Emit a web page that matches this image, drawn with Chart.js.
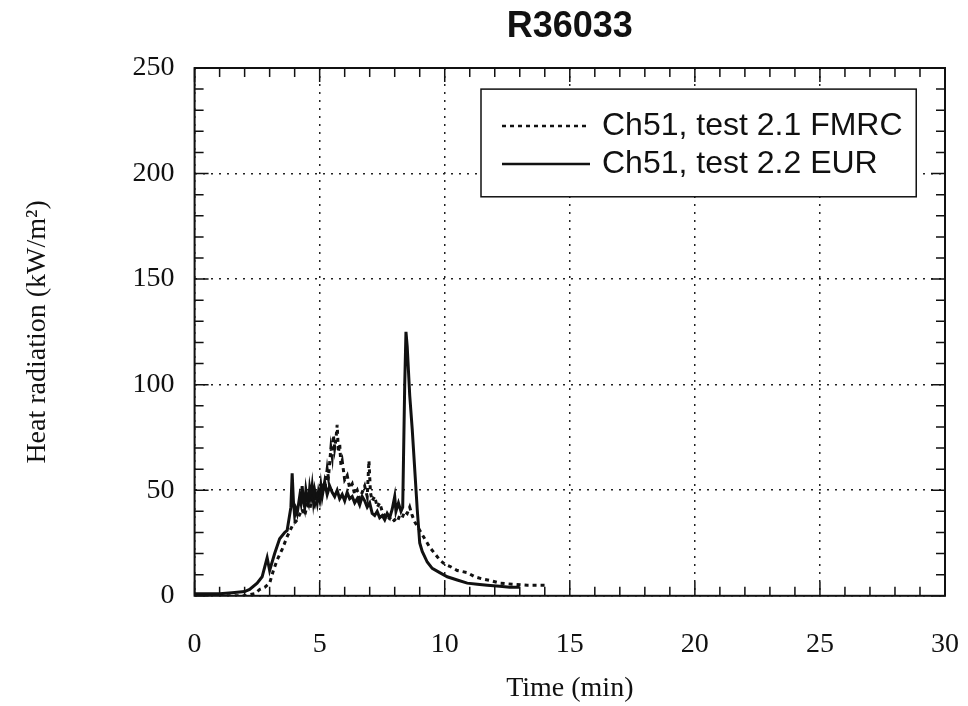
<!DOCTYPE html>
<html>
<head>
<meta charset="utf-8">
<script src="https://cdn.jsdelivr.net/npm/chart.js@4.4.1/dist/chart.umd.min.js"></script>
<style>
  body { margin: 0; background: #fff; }
  #wrap { width: 968px; height: 706px; position: relative; }
</style>
</head>
<body>
<div id="wrap"><canvas id="chart"></canvas></div>
<script>
// values (time in min, heat radiation in kW/m2)
const eurTime = [0, 0.5, 1, 1.5, 2, 2.2, 2.5, 2.7, 2.9, 3.0, 3.2, 3.4, 3.6, 3.7, 3.85, 3.9, 3.95, 4.0, 4.05, 4.1, 4.2, 4.25, 4.3, 4.35, 4.4, 4.45, 4.5, 4.55, 4.6, 4.65, 4.7, 4.75, 4.8, 4.85, 4.9, 4.95, 5.0, 5.05, 5.1, 5.2, 5.3, 5.4, 5.5, 5.6, 5.7, 5.8, 5.9, 6.0, 6.1, 6.2, 6.3, 6.4, 6.5, 6.6, 6.7, 6.8, 6.9, 7.0, 7.1, 7.2, 7.3, 7.4, 7.5, 7.6, 7.7, 7.8, 7.9, 8.0, 8.05, 8.15, 8.25, 8.32, 8.4, 8.45, 8.5, 8.6, 8.7, 8.8, 8.9, 9.0, 9.1, 9.3, 9.5, 9.8, 10.1, 10.5, 10.9, 11.3, 11.7, 12.2, 12.6, 13.0];
const eurHeat = [1, 1, 1, 1.5, 2, 3, 6, 9, 18, 12, 20, 27, 30, 31, 42, 58, 45, 38, 41, 39, 47, 44, 52, 45, 42, 50, 46, 44, 51, 47, 52, 45, 50, 47, 44, 49, 46, 52, 47, 54, 48, 52, 49, 47, 50, 46, 48, 45, 49, 46, 47, 44, 46, 43, 47, 45, 42, 44, 39, 38, 40, 37, 38, 36, 39, 37, 41, 47, 40, 44, 40, 42, 100, 125, 118, 95, 79, 60, 41, 25, 21, 16, 13, 11, 9, 7.5, 6, 5.5, 5, 4.5, 4, 4];

const fmrcTime = [0, 1, 2, 2.4, 2.6, 2.8, 3.0, 3.15, 3.3, 3.5, 3.7, 3.9, 4.1, 4.3, 4.4, 4.5, 4.6, 4.7, 4.8, 4.9, 5.0, 5.1, 5.2, 5.3, 5.35, 5.45, 5.5, 5.55, 5.6, 5.65, 5.7, 5.75, 5.8, 5.85, 5.9, 6.0, 6.1, 6.2, 6.3, 6.4, 6.5, 6.6, 6.7, 6.8, 6.9, 6.97, 7.03, 7.1, 7.2, 7.3, 7.4, 7.5, 7.6, 7.7, 7.8, 7.9, 8.0, 8.1, 8.2, 8.3, 8.4, 8.5, 8.6, 8.7, 8.8, 8.9, 9.0, 9.2, 9.4, 9.6, 9.8, 10.0, 10.2, 10.5, 10.9, 11.2, 11.5, 11.9, 12.2, 12.7, 13.3, 13.7, 14.0];
const fmrcHeat = [0, 0, 0, 1, 3, 4, 6, 12, 17, 22, 28, 33, 36, 41, 38, 43, 41, 46, 43, 48, 45, 52, 50, 60, 56, 70, 66, 76, 70, 74, 81, 68, 72, 62, 64, 55, 57, 51, 53, 48, 50, 46, 49, 52, 47, 64, 49, 45, 47, 42, 44, 40, 38, 36, 37, 35, 36, 35, 38, 37, 40, 39, 42, 38, 35, 33, 31, 27, 23, 20, 17, 15, 14, 12, 11, 9, 8, 7, 6, 5.5, 5, 5, 5];

const seriesLabels = ['Ch51, test 2.1 FMRC', 'Ch51, test 2.2 EUR'];
const chartTitle = 'R36033';
const xTicks = [0, 5, 10, 15, 20, 25, 30];
const yTicks = [0, 50, 100, 150, 200, 250];

function toPoints(xs, ys) {
  return xs.map((x, i) => ({ x: x, y: ys[i] }));
}

const serif = "'Liberation Serif', 'DejaVu Serif', serif";
const sans = "'Liberation Sans', Arial, sans-serif";

// frame + inward tick marks, plus the title centred over the plot box
const frameTicks = {
  id: 'frameTicks',
  afterDatasetsDraw(chart) {
    const ctx = chart.ctx;
    const a = chart.chartArea;
    const xs = chart.scales.x, ys = chart.scales.y;
    ctx.save();
    ctx.strokeStyle = '#111';
    ctx.lineWidth = 2;
    ctx.setLineDash([]);
    ctx.strokeRect(a.left, a.top, a.right - a.left, a.bottom - a.top);
    ctx.lineWidth = 1.5;
    for (let t = 0; t <= 30; t += 1) {
      const px = xs.getPixelForValue(t);
      const len = t % 5 === 0 ? 14 : 9;
      ctx.beginPath();
      ctx.moveTo(px, a.bottom); ctx.lineTo(px, a.bottom - len);
      ctx.moveTo(px, a.top); ctx.lineTo(px, a.top + len);
      ctx.stroke();
    }
    for (let v = 0; v <= 250; v += 10) {
      const py = ys.getPixelForValue(v);
      const len = v % 50 === 0 ? 14 : 9;
      ctx.beginPath();
      ctx.moveTo(a.left, py); ctx.lineTo(a.left + len, py);
      ctx.moveTo(a.right, py); ctx.lineTo(a.right - len, py);
      ctx.stroke();
    }
    ctx.fillStyle = '#111';
    ctx.font = 'bold 36px ' + sans;
    ctx.textAlign = 'center';
    ctx.textBaseline = 'middle';
    ctx.fillText(chartTitle, (a.left + a.right) / 2, 27);
    ctx.restore();
  }
};

// boxed legend inside the plot, top right
const boxLegend = {
  id: 'boxLegend',
  afterDraw(chart) {
    const ctx = chart.ctx;
    const xs = chart.scales.x, ys = chart.scales.y;
    const left = xs.getPixelForValue(11.45);
    const right = xs.getPixelForValue(28.85);
    const top = ys.getPixelForValue(240);
    const bottom = ys.getPixelForValue(189);
    ctx.save();
    ctx.fillStyle = '#fff';
    ctx.fillRect(left, top, right - left, bottom - top);
    ctx.strokeStyle = '#111';
    ctx.lineWidth = 1.5;
    ctx.strokeRect(left, top, right - left, bottom - top);
    ctx.font = '32px ' + sans;
    ctx.fillStyle = '#111';
    ctx.textBaseline = 'middle';
    chart.data.datasets.forEach((ds, i) => {
      const y = top + 37 + i * 38;
      ctx.beginPath();
      ctx.lineWidth = 2.5;
      ctx.setLineDash(ds.borderDash || []);
      ctx.moveTo(left + 21, y);
      ctx.lineTo(left + 109, y);
      ctx.stroke();
      ctx.setLineDash([]);
      ctx.fillText(ds.label, left + 121, y);
    });
    ctx.restore();
  }
};

new Chart(document.getElementById('chart'), {
  type: 'line',
  data: {
    datasets: [
      {
        label: seriesLabels[0],
        data: toPoints(fmrcTime, fmrcHeat),
        borderColor: '#111',
        borderWidth: 3,
        borderDash: [4, 4],
        pointRadius: 0,
        tension: 0
      },
      {
        label: seriesLabels[1],
        data: toPoints(eurTime, eurHeat),
        borderColor: '#111',
        borderWidth: 3,
        pointRadius: 0,
        tension: 0
      }
    ]
  },
  options: {
    responsive: true,
    maintainAspectRatio: false,
    animation: false,
    layout: { padding: { top: 68, left: 21, right: 23, bottom: 1 } },
    plugins: {
      legend: { display: false },
      tooltip: { enabled: false },
      title: { display: false }
    },
    scales: {
      x: {
        type: 'linear',
        min: 0,
        max: 30,
        afterBuildTicks: (s) => { s.ticks = xTicks.map(v => ({ value: v })); },
        grid: { color: '#222', lineWidth: 1.5, drawTicks: true, tickLength: 28, tickColor: 'rgba(0,0,0,0)' },
        border: { display: false, dash: [2, 6] },
        ticks: { color: '#111', padding: 4, font: { family: serif, size: 28 }, maxRotation: 0 },
        title: {
          display: true,
          text: 'Time (min)',
          color: '#111',
          font: { family: serif, size: 28 },
          padding: { top: 6, bottom: 0 }
        }
      },
      y: {
        min: 0,
        max: 250,
        afterBuildTicks: (s) => { s.ticks = yTicks.map(v => ({ value: v })); },
        grid: { color: '#222', lineWidth: 1.5, drawTicks: true, tickLength: 16, tickColor: 'rgba(0,0,0,0)' },
        border: { display: false, dash: [2, 6] },
        ticks: { color: '#111', padding: 4, font: { family: serif, size: 28 } },
        title: {
          display: true,
          text: 'Heat radiation (kW/m²)',
          color: '#111',
          font: { family: serif, size: 28 },
          padding: { top: 0, bottom: 74 }
        }
      }
    }
  },
  plugins: [frameTicks, boxLegend]
});
</script>
</body>
</html>
